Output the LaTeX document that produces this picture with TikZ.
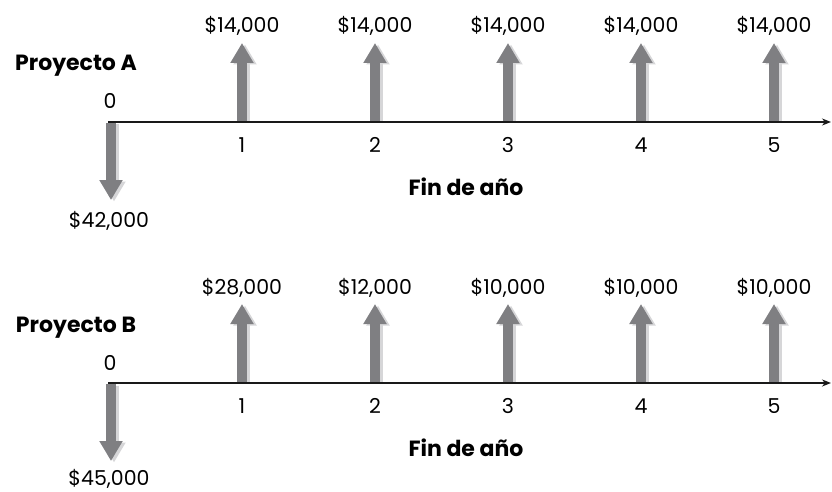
\documentclass[tikz,border=0pt]{standalone}
\usepackage{fontspec}
\setmainfont{Poppins}
\usetikzlibrary{arrows.meta}
\definecolor{cfgray}{HTML}{7F7F82}
\definecolor{cfshadow}{HTML}{D6D6D8}
\tikzset{
  cfarrow/.style={line width=10pt, draw=cfgray, -{Triangle[width=22pt,length=20pt]}},
  cfshade/.style={line width=10pt, draw=cfshadow, -{Triangle[width=22pt,length=20pt]}, transform canvas={xshift=3pt,yshift=-1.5pt}},
  axisline/.style={line width=1.5pt, draw=black!90, -{Stealth[length=9pt,width=7pt]}},
  val/.style={inner sep=0pt, anchor=base, font=\fontsize{20.5}{23}\selectfont},
  ttl/.style={inner sep=0pt, anchor=base, font=\fontsize{22}{25}\selectfont\bfseries},
}
% #1 project, #2 vertical offset, #3 baseline of the negative value, #4 negative value, #5-#9 inflows
\newcommand\cfpanel[9]{%
\begin{scope}[shift={(0,#2)}, name prefix=#1-]
  \coordinate (o) at (108,122);
  \coordinate (end) at (831,122);
  \coordinate (z0) at (111,123);
  \coordinate (z1) at (111,200);
  \draw[cfshade] (z0) -- (z1);
  \draw[cfarrow] (z0) -- (z1);
  \foreach \k/\v in {1/{#5},2/{#6},3/{#7},4/{#8},5/{#9}}{
    \coordinate (b\k) at ({242+133*(\k-1)},121);
    \coordinate (t\k) at ({242+133*(\k-1)},43);
    \draw[cfshade] (b\k) -- (t\k);
    \draw[cfarrow] (b\k) -- (t\k);
    \node[val] (v\k) at ({242+133*(\k-1)},33) {\$\v};
    \node[val] (n\k) at ({242+133*(\k-1)},152) {\k};
  }
  \draw[axisline] (o) -- (end);
  \node[ttl] (proj) at (76,71) {Proyecto #1};
  \node[val] (zero) at (110,109) {0};
  \node[ttl] (fin) at (466,195) {Fin de año};
  \node[val] (neg) at (109,#3) {\$#4};
\end{scope}}
\begin{document}
\begin{tikzpicture}[x=1pt,y=-1pt]
  \useasboundingbox (0,0) rectangle (832,492);
  \cfpanel{A}{0}{227}{42,000}{14,000}{14,000}{14,000}{14,000}{14,000}
  \cfpanel{B}{261}{224}{45,000}{28,000}{12,000}{10,000}{10,000}{10,000}
\end{tikzpicture}
\end{document}
